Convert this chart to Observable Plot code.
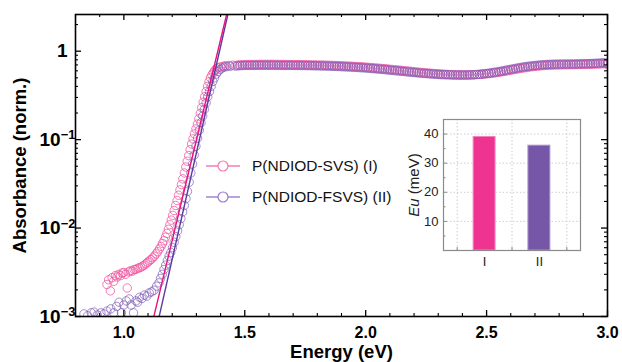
<!DOCTYPE html>
<html>
<head>
<meta charset="utf-8">
<script src="https://cdn.jsdelivr.net/npm/d3@7"></script>
<script src="https://cdn.jsdelivr.net/npm/@observablehq/plot@0.6"></script>
<style>
  html, body { margin: 0; padding: 0; background: #fff; }
  #wrap { position: relative; width: 622px; height: 362px; font-family: "Liberation Sans", Arial, sans-serif; }
  #wrap svg { position: absolute; }
  .leg { position: absolute; display: flex; align-items: center; font-size: 15.5px; color: #111; white-space: nowrap; }
  .leg svg { position: static !important; margin-right: 11px; }
</style>
</head>
<body>
<div id="wrap"></div>
<script>
// ---- Data ----
const seriesNames = ["P(NDIOD-SVS) (I)", "P(NDIOD-FSVS) (II)"];

// Series I (pink): sub-gap tail and absorption onset
const energyI = [0.930,0.937,0.944,0.951,0.958,0.965,0.972,0.979,0.986,0.993,1.000,1.007,1.014,1.021,1.028,1.035,1.042,1.049,1.056,1.063,1.070,1.077,1.084,1.091,1.098,1.105,1.112,1.119,1.126,1.133,1.140,1.147,1.154,
  1.160,1.166,1.172,1.178,1.184,1.190,1.196,1.202,1.208,1.214,1.220,1.226,1.232,1.238,1.244,1.250,1.256,1.262,1.268,1.274,1.280,1.286,1.292,1.298,1.304,1.310,1.316,1.322,1.328,1.334,1.340,1.346,1.352,1.358,1.364,1.370,1.376,1.382,
  1.390,1.400,1.410,1.420,1.435,1.450];
const absI = [0.0023,0.0026,0.00195,0.00275,0.0025,0.0029,0.0028,0.0030,0.0029,0.0031,0.00315,0.0030,0.0021,0.0032,0.0033,0.00325,0.0034,0.0034,0.0035,0.00355,0.0036,0.0037,0.0038,0.00395,0.0041,0.00425,0.0044,0.0046,0.0048,0.0051,0.0054,0.0058,0.0062,
  0.0067,0.0072,0.0079,0.0087,0.0097,0.0109,0.0123,0.0139,0.0158,0.018,0.0205,0.0235,0.027,0.031,0.036,0.042,0.049,0.057,0.066,0.077,0.089,0.102,0.116,0.132,0.15,0.172,0.198,0.23,0.265,0.305,0.35,0.40,0.45,0.50,0.54,0.575,0.605,0.63,
  0.65,0.665,0.675,0.685,0.69,0.695];

// Series II (purple): sub-gap tail and absorption onset
const energyII = [0.835,0.850,0.865,0.877,0.890,0.905,0.918,0.930,0.946,0.958,0.970,0.980,0.990,1.000,1.010,1.022,1.030,1.040,1.050,1.057,1.065,1.075,1.085,1.095,1.105,1.115,1.125,1.135,1.145,
  1.152,1.159,1.166,1.173,1.180,1.187,1.194,1.201,1.208,1.215,1.222,1.229,1.236,1.243,1.250,1.257,1.263,1.270,1.277,1.284,1.291,1.298,1.305,1.312,1.319,1.326,1.333,1.340,1.347,1.354,1.361,1.368,1.375,1.382,
  1.390,1.398,1.406,1.415,1.425,1.440,1.460];
const absII = [0.00107,0.00102,0.0011,0.00112,0.00104,0.0011,0.00107,0.00115,0.00122,0.0011,0.0013,0.00145,0.0011,0.00135,0.0015,0.00158,0.00135,0.0011,0.0015,0.00145,0.00165,0.0016,0.00175,0.0017,0.00185,0.0019,0.00198,0.0022,0.0024,
  0.0027,0.003,0.0034,0.0038,0.0043,0.0048,0.0053,0.006,0.0069,0.008,0.0093,0.0109,0.0128,0.0152,0.018,0.0215,0.026,0.033,0.042,0.053,0.067,0.084,0.104,0.128,0.155,0.185,0.22,0.26,0.305,0.35,0.40,0.455,0.50,0.55,
  0.59,0.62,0.645,0.66,0.67,0.675,0.68];

// Plateau region (shared energy grid, 1.47 ... 3.00 eV)
const plateauE = [
  1.47,1.48,1.49,1.50,1.51,1.52,1.53,1.54,1.55,1.56,
  1.57,1.58,1.59,1.60,1.61,1.62,1.63,1.64,1.65,1.66,
  1.67,1.68,1.69,1.70,1.71,1.72,1.73,1.74,1.75,1.76,
  1.77,1.78,1.79,1.80,1.81,1.82,1.83,1.84,1.85,1.86,
  1.87,1.88,1.89,1.90,1.91,1.92,1.93,1.94,1.95,1.96,
  1.97,1.98,1.99,2.00,2.01,2.02,2.03,2.04,2.05,2.06,
  2.07,2.08,2.09,2.10,2.11,2.12,2.13,2.14,2.15,2.16,
  2.17,2.18,2.19,2.20,2.21,2.22,2.23,2.24,2.25,2.26,
  2.27,2.28,2.29,2.30,2.31,2.32,2.33,2.34,2.35,2.36,
  2.37,2.38,2.39,2.40,2.41,2.42,2.43,2.44,2.45,2.46,
  2.47,2.48,2.49,2.50,2.51,2.52,2.53,2.54,2.55,2.56,
  2.57,2.58,2.59,2.60,2.61,2.62,2.63,2.64,2.65,2.66,
  2.67,2.68,2.69,2.70,2.71,2.72,2.73,2.74,2.75,2.76,
  2.77,2.78,2.79,2.80,2.81,2.82,2.83,2.84,2.85,2.86,
  2.87,2.88,2.89,2.90,2.91,2.92,2.93,2.94,2.95,2.96,
  2.97,2.98,2.99,3.00];
const plateauI = [
  0.698,0.70,0.703,0.705,0.706,0.707,0.707,0.708,0.708,0.709,
  0.709,0.71,0.71,0.71,0.71,0.71,0.709,0.709,0.708,0.708,
  0.707,0.707,0.706,0.706,0.705,0.705,0.704,0.704,0.703,0.702,
  0.701,0.70,0.699,0.698,0.697,0.696,0.695,0.694,0.692,0.691,
  0.689,0.688,0.686,0.684,0.682,0.68,0.678,0.676,0.673,0.671,
  0.668,0.666,0.663,0.66,0.657,0.653,0.65,0.647,0.643,0.64,
  0.636,0.633,0.629,0.625,0.621,0.617,0.614,0.61,0.606,0.602,
  0.598,0.594,0.59,0.586,0.582,0.579,0.575,0.572,0.569,0.566,
  0.563,0.56,0.557,0.555,0.552,0.55,0.548,0.546,0.544,0.543,
  0.542,0.541,0.54,0.54,0.54,0.54,0.54,0.541,0.542,0.544,
  0.546,0.548,0.551,0.554,0.558,0.562,0.567,0.572,0.577,0.583,
  0.589,0.596,0.603,0.61,0.617,0.624,0.631,0.638,0.645,0.652,
  0.658,0.664,0.669,0.674,0.678,0.682,0.686,0.689,0.692,0.694,
  0.696,0.698,0.699,0.70,0.701,0.702,0.702,0.703,0.703,0.704,
  0.705,0.706,0.707,0.708,0.709,0.71,0.711,0.713,0.715,0.717,
  0.719,0.722,0.72,0.715];
const plateauII = [
  0.682,0.685,0.688,0.69,0.69,0.69,0.69,0.69,0.691,0.692,
  0.692,0.692,0.692,0.692,0.692,0.692,0.691,0.69,0.69,0.69,
  0.69,0.69,0.69,0.69,0.689,0.688,0.688,0.688,0.687,0.686,
  0.686,0.685,0.684,0.683,0.682,0.68,0.679,0.678,0.677,0.675,
  0.674,0.672,0.67,0.668,0.666,0.664,0.662,0.66,0.658,0.655,
  0.653,0.65,0.648,0.645,0.642,0.638,0.635,0.632,0.628,0.625,
  0.622,0.618,0.614,0.61,0.606,0.602,0.599,0.595,0.592,0.588,
  0.584,0.58,0.577,0.573,0.57,0.566,0.563,0.56,0.558,0.555,
  0.552,0.55,0.548,0.545,0.543,0.542,0.541,0.54,0.539,0.538,
  0.538,0.537,0.537,0.537,0.537,0.538,0.539,0.54,0.542,0.545,
  0.548,0.552,0.556,0.56,0.565,0.57,0.576,0.582,0.588,0.595,
  0.602,0.61,0.617,0.625,0.632,0.64,0.648,0.655,0.662,0.668,
  0.674,0.68,0.685,0.69,0.694,0.698,0.702,0.705,0.708,0.71,
  0.712,0.713,0.714,0.715,0.716,0.716,0.717,0.717,0.718,0.718,
  0.719,0.72,0.721,0.722,0.723,0.725,0.726,0.728,0.73,0.732,
  0.735,0.74,0.736,0.73];

// Urbach fit lines (end points)
const fitEnergyI = [1.124, 1.425];
const fitAbsI = [0.001, 2.6];
const fitEnergyII = [1.146, 1.430];
const fitAbsII = [0.001, 2.6];

// Axes
const xMajor = [1.0, 1.5, 2.0, 2.5, 3.0];
const xMinor = [0.8,0.9,1.1,1.2,1.3,1.4,1.6,1.7,1.8,1.9,2.1,2.2,2.3,2.4,2.6,2.7,2.8,2.9];
const yMajor = [0.001, 0.01, 0.1, 1];
const yLabels = ["10^\u22123", "10^\u22122", "10^\u22121", "1"];
const yMinor = [0.002,0.003,0.004,0.005,0.006,0.007,0.008,0.009,0.02,0.03,0.04,0.05,0.06,0.07,0.08,0.09,0.2,0.3,0.4,0.5,0.6,0.7,0.8,0.9,2];

// Inset
const categories = ["I", "II"];
const euValues = [39, 36];
const insetYTicks = [10, 20, 30, 40];
const insetYMinor = [5, 15, 25, 35];
const insetXGrid = [0.5, 1.5, 2.5];

// ---- Styles ----
const pinkDot = "#f0529c", purpleDot = "#7a58b4";
const pinkLine = "#e8157f", purpleLine = "#5a3c9e";
const pinkBar = "#ee3390", purpleBar = "#7656a6";

// ---- Build tables ----
const ptsI = energyI.map((e, i) => ({E: e, A: absI[i]}))
  .concat(plateauE.map((e, i) => ({E: e, A: plateauI[i]})));
const ptsII = energyII.map((e, i) => ({E: e, A: absII[i]}))
  .concat(plateauE.map((e, i) => ({E: e, A: plateauII[i]})));
const fitI = fitEnergyI.map((e, i) => ({E: e, A: fitAbsI[i]}));
const fitII = fitEnergyII.map((e, i) => ({E: e, A: fitAbsII[i]}));

const W = 622, H = 362, mL = 75, mR = 15, mT = 14, mB = 46;
const fw = W - mL - mR, fh = H - mT - mB;
const font = "Liberation Sans, Arial, Helvetica, sans-serif";

const main = Plot.plot({
  width: W, height: H,
  marginLeft: mL, marginRight: mR, marginTop: mT, marginBottom: mB,
  style: {fontFamily: font, background: "transparent", color: "#000", overflow: "visible"},
  x: {domain: [0.8, 3.0]},
  y: {type: "log", domain: [0.001, 2.6]},
  marks: [
    Plot.dot(ptsI, {x: "E", y: "A", r: 4.2, stroke: pinkDot, strokeWidth: 0.9, strokeOpacity: 0.85, fill: "none", clip: true}),
    Plot.dot(ptsII, {x: "E", y: "A", r: 4.2, stroke: purpleDot, strokeWidth: 0.9, strokeOpacity: 0.75, fill: "none", clip: true}),
    Plot.line(fitII, {x: "E", y: "A", stroke: purpleLine, strokeWidth: 1.4, clip: true}),
    Plot.line(fitI, {x: "E", y: "A", stroke: pinkLine, strokeWidth: 1.4, clip: true}),
    // inward ticks, all four sides
    Plot.ruleX(xMajor, {insetTop: fh - 6, stroke: "#000", strokeWidth: 1.3}),
    Plot.ruleX(xMajor, {insetBottom: fh - 6, stroke: "#000", strokeWidth: 1.3}),
    Plot.ruleX(xMinor, {insetTop: fh - 3, stroke: "#000", strokeWidth: 1.1}),
    Plot.ruleX(xMinor, {insetBottom: fh - 3, stroke: "#000", strokeWidth: 1.1}),
    Plot.ruleY(yMajor, {insetRight: fw - 6, stroke: "#000", strokeWidth: 1.3}),
    Plot.ruleY(yMajor, {insetLeft: fw - 6, stroke: "#000", strokeWidth: 1.3}),
    Plot.ruleY(yMinor, {insetRight: fw - 3, stroke: "#000", strokeWidth: 1.1}),
    Plot.ruleY(yMinor, {insetLeft: fw - 3, stroke: "#000", strokeWidth: 1.1}),
    Plot.frame({stroke: "#000", strokeWidth: 1.6}),
    Plot.axisX(xMajor, {tickSize: 0, tickPadding: 10, tickFormat: d => d.toFixed(1), fontSize: 16, fontWeight: "bold", label: null}),
    Plot.axisY(yMajor, {tickSize: 0, tickPadding: 8, tickFormat: d => yLabels[yMajor.indexOf(d)], fontSize: 19, fontWeight: "bold", label: null}),
    Plot.text(["Energy (eV)"], {frameAnchor: "bottom", lineAnchor: "middle", dy: 36, fontSize: 18.5, fontWeight: "bold"}),
    Plot.text(["Absorbance (norm.)"], {frameAnchor: "left", textAnchor: "middle", lineAnchor: "middle", dx: -55, rotate: -90, fontSize: 18.5, fontWeight: "bold"})
  ]
});
main.style.left = "0px"; main.style.top = "0px";

// superscript exponents on the log-axis labels
const svgNS = "http://www.w3.org/2000/svg";
main.querySelectorAll("text").forEach(t => {
  const s = t.textContent;
  const m = s.match(/^10\^(.+)$/);
  if (m) {
    while (t.firstChild) t.removeChild(t.firstChild);
    t.appendChild(document.createTextNode("10"));
    const sup = document.createElementNS(svgNS, "tspan");
    sup.setAttribute("dy", "-0.5em");
    sup.setAttribute("font-size", "13");
    sup.textContent = m[1];
    t.appendChild(sup);
    t.setAttribute("dx", "8");
  }
});

// ---- Inset bar chart ----
const iW = 185, iH = 165, iL = 38, iR = 10, iT = 9, iB = 25;
const ifw = iW - iL - iR, ifh = iH - iT - iB;
const bars = categories.map((c, i) => ({cat: c, pos: i + 1, eu: euValues[i]}));
const inset = Plot.plot({
  width: iW, height: iH,
  marginLeft: iL, marginRight: iR, marginTop: iT, marginBottom: iB,
  style: {fontFamily: font, background: "transparent", color: "#222", overflow: "visible"},
  x: {domain: [0.25, 2.75]},
  y: {domain: [0, 45]},
  marks: [
    Plot.ruleY(insetYTicks, {stroke: "#c8c8c8", strokeWidth: 0.9, strokeDasharray: "1.5,2"}),
    Plot.ruleX(insetXGrid, {stroke: "#c8c8c8", strokeWidth: 0.9, strokeDasharray: "1.5,2"}),
    Plot.rectY(bars, {x1: d => d.pos - 0.2, x2: d => d.pos + 0.2, y: "eu", fill: (d, i) => [pinkBar, purpleBar][i], stroke: (d, i) => ["#f583bb", "#a690cc"][i], strokeWidth: 1}),
    Plot.ruleY(insetYTicks, {insetRight: ifw - 4, stroke: "#888", strokeWidth: 1}),
    Plot.ruleY(insetYMinor, {insetRight: ifw - 2.5, stroke: "#888", strokeWidth: 1}),
    Plot.ruleX(insetXGrid, {insetTop: ifh - 3, stroke: "#888", strokeWidth: 1}),
    Plot.frame({stroke: "#8a8a8a", strokeWidth: 1.2}),
    Plot.axisY(insetYTicks, {tickSize: 0, tickPadding: 5, fontSize: 13, label: null}),
    Plot.axisX([1, 2], {tickSize: 0, tickPadding: 6, tickFormat: d => categories[d - 1], fontSize: 13, label: null}),
    Plot.text(["Eu (meV)"], {frameAnchor: "left", textAnchor: "middle", lineAnchor: "middle", dx: -29, rotate: -90, fontSize: 15})
  ]
});
inset.style.left = "405px"; inset.style.top = "110px";
inset.querySelectorAll("text").forEach(t => {
  if (t.textContent === "Eu (meV)") {
    while (t.firstChild) t.removeChild(t.firstChild);
    const it = document.createElementNS(svgNS, "tspan");
    it.setAttribute("font-style", "italic");
    it.textContent = "Eu";
    t.appendChild(it);
    t.appendChild(document.createTextNode(" (meV)"));
  }
});

const wrap = document.getElementById("wrap");
wrap.appendChild(main);
wrap.appendChild(inset);

// ---- Legend ----
const legColors = [["#f27bb4", "#f27bb4"], ["#a383d4", "#9b7acc"]];
const legTop = [157, 188];
seriesNames.forEach((name, i) => {
  const row = document.createElement("div");
  row.className = "leg";
  row.style.left = "206px";
  row.style.top = legTop[i] + "px";
  row.innerHTML = `<svg width="35" height="14" viewBox="0 0 35 14"><line x1="0" y1="7" x2="34" y2="7" stroke="${legColors[i][0]}" stroke-width="1.3"/><circle cx="17" cy="7" r="5" fill="#fff" stroke="${legColors[i][1]}" stroke-width="1.2"/></svg><span>${name}</span>`;
  wrap.appendChild(row);
});
</script>
</body>
</html>
